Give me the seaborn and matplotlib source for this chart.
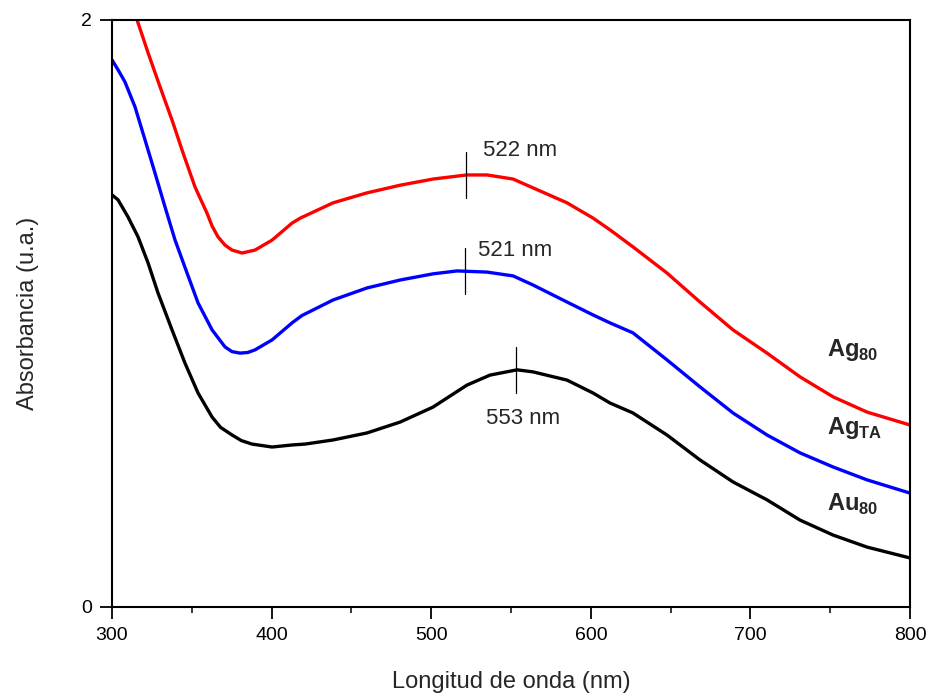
import numpy as np
import seaborn as sns
import matplotlib.pyplot as plt
from matplotlib.ticker import MultipleLocator

### DATA
ag80_nm = [315.7, 322.6, 330.1, 337.6, 344.5, 352.0, 359.5, 362.7, 366.4, 370.8,
           375.2, 381.5, 389.6, 400.3, 412.8, 418.0, 438.5, 459.8, 480.5, 501.1,
           516.2, 522.4, 535.0, 551.3, 563.8, 585.1, 601.4, 612.0, 626.4, 647.7,
           668.4, 689.1, 710.4, 731.1, 751.8, 773.1, 800.0]
ag80_abs = [2.000, 1.888, 1.772, 1.659, 1.547, 1.431, 1.342, 1.298, 1.261, 1.233,
            1.216, 1.206, 1.216, 1.250, 1.308, 1.325, 1.377, 1.411, 1.437, 1.458,
            1.468, 1.472, 1.472, 1.458, 1.428, 1.377, 1.325, 1.285, 1.227, 1.138,
            1.039, 0.944, 0.865, 0.784, 0.716, 0.664, 0.620]

agta_nm = [300.0, 303.8, 308.1, 314.4, 320.7, 326.9, 333.2, 339.5, 347.0, 353.9,
           362.7, 370.8, 375.2, 380.2, 385.0, 389.6, 400.3, 412.8, 419.0, 438.5,
           459.8, 480.5, 501.1, 516.2, 535.0, 551.3, 563.8, 585.1, 601.4, 612.0,
           626.4, 647.7, 668.4, 689.1, 710.4, 731.1, 751.8, 773.1, 800.0]
agta_abs = [1.864, 1.830, 1.789, 1.704, 1.591, 1.479, 1.363, 1.250, 1.138, 1.036,
            0.944, 0.886, 0.870, 0.865, 0.867, 0.876, 0.910, 0.968, 0.993, 1.046,
            1.087, 1.114, 1.135, 1.145, 1.141, 1.128, 1.097, 1.039, 0.995, 0.968,
            0.934, 0.842, 0.750, 0.661, 0.586, 0.525, 0.477, 0.433, 0.388]

au80_nm = [300.0, 303.8, 310.0, 316.3, 322.6, 328.8, 337.6, 345.7, 353.9, 362.7,
           368.0, 375.2, 381.0, 387.7, 400.3, 412.8, 420.9, 438.5, 459.8, 480.5,
           501.1, 522.4, 536.8, 553.8, 563.8, 585.1, 601.4, 612.0, 626.4, 647.7,
           668.4, 689.1, 710.4, 731.1, 751.8, 773.1, 800.0]
au80_abs = [1.404, 1.387, 1.329, 1.261, 1.172, 1.070, 0.944, 0.831, 0.729, 0.647,
            0.612, 0.586, 0.567, 0.555, 0.545, 0.552, 0.555, 0.569, 0.593, 0.630,
            0.681, 0.756, 0.790, 0.808, 0.801, 0.773, 0.729, 0.695, 0.661, 0.586,
            0.501, 0.426, 0.365, 0.296, 0.245, 0.204, 0.167]

peak_nm = [522, 521, 553]
peak_labels = ['522 nm', '521 nm', '553 nm']
series_labels = [r'$\mathbf{Ag}_{\mathbf{80}}$', r'$\mathbf{Ag}_{\mathbf{TA}}$', r'$\mathbf{Au}_{\mathbf{80}}$']
series_colors = ['#ff0000', '#0000ff', '#000000']

### STYLE
sns.set_style('ticks')
plt.rcParams['font.family'] = ['Liberation Sans', 'DejaVu Sans']
plt.rcParams['mathtext.fontset'] = 'custom'
plt.rcParams['mathtext.rm'] = 'Liberation Sans'
plt.rcParams['mathtext.bf'] = 'Liberation Sans:bold'

fig = plt.figure(figsize=(9.32, 6.94), dpi=100)
ax = fig.add_axes([0.1202, 0.1254, 0.8562, 0.8458])

curves = [(ag80_nm, ag80_abs), (agta_nm, agta_abs), (au80_nm, au80_abs)]
for (x, y), col in zip(curves, series_colors):
    sns.lineplot(x=x, y=y, color=col, lw=2.4, ax=ax,
                 solid_joinstyle='round', solid_capstyle='round')

# peak markers + labels
text_offsets = [(10.5, 0.085), (8.3, 0.072), (-18.8, -0.164)]
for (x, y), pk, lab, (dx, dy) in zip(curves, peak_nm, peak_labels, text_offsets):
    yc = np.interp(pk, x, y)
    ax.plot([pk, pk], [yc - 0.078, yc + 0.078], color='black', lw=0.9)
    ax.text(pk + dx, yc + dy, lab, fontsize=16, ha='left', va='center')

# curve names
name_y = [0.876, 0.61, 0.348]
for lab, yy in zip(series_labels, name_y):
    ax.text(748, yy, lab, fontsize=17, ha='left', va='center')

ax.set_xlim(300, 800)
ax.set_ylim(0, 2)
ax.set_xticks([300, 400, 500, 600, 700, 800])
ax.xaxis.set_minor_locator(MultipleLocator(50))
ax.set_yticks([0, 2])
ax.set_yticklabels(['0', '2'])

for s in ax.spines.values():
    s.set_linewidth(1.5)
    s.set_color('black')
ax.tick_params(which='major', direction='out', length=8.5, width=1.3, labelsize=14,
               pad=6, colors='black', top=False, right=False)
ax.tick_params(which='minor', direction='out', length=4, width=1.3, top=False, right=False)
ax.tick_params(axis='y', which='minor', left=False)

ax.set_xlabel('Longitud de onda (nm)', fontsize=17, labelpad=19)
ax.set_ylabel('Absorbancia (u.a.)', fontsize=17, labelpad=30)

plt.savefig('out.png', dpi=100)
plt.close()
